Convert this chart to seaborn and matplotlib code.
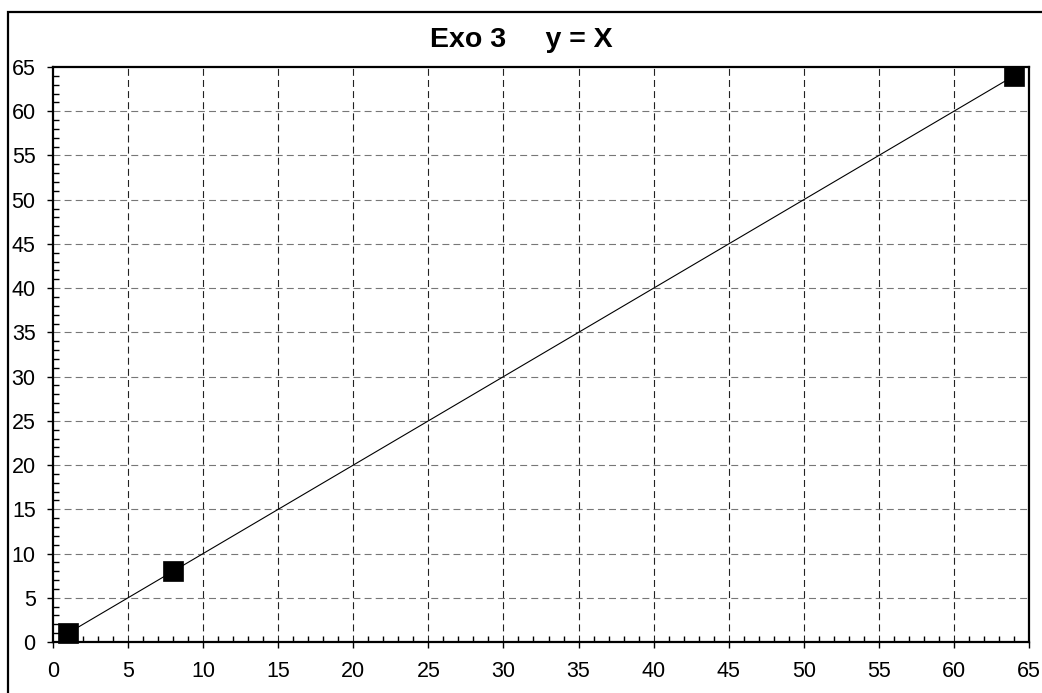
import matplotlib
matplotlib.use("Agg")
from matplotlib import pyplot as plt
from matplotlib.patches import Rectangle
from matplotlib.ticker import MultipleLocator
import seaborn as sns

x_vals = [1, 8, 64]
y_vals = [1, 8, 64]
title = "Exo 3     y = X"

sns.set_style("white")
plt.rcParams['font.family'] = ['Liberation Sans', 'DejaVu Sans']
plt.rcParams['lines.scale_dashes'] = False
plt.rcParams['text.color'] = "black"

fig = plt.figure(figsize=(10.42, 6.93), dpi=100)
ax = fig.add_axes([53/1042, 51/693, (1029-53)/1042, (642-67)/693])

sns.lineplot(x=x_vals, y=y_vals, ax=ax, color="black", linewidth=0.8,
             marker="s", markersize=14.5, markeredgecolor="black",
             markeredgewidth=0.5, markerfacecolor="black",
             clip_on=False, zorder=5)

ax.set_xlim(0, 65)
ax.set_ylim(0, 65)
ax.xaxis.set_major_locator(MultipleLocator(5))
ax.yaxis.set_major_locator(MultipleLocator(5))
ax.xaxis.set_minor_locator(MultipleLocator(1))
ax.yaxis.set_minor_locator(MultipleLocator(1))

ax.grid(False)
for v in range(5, 65, 5):
    ax.axvline(v, color="#222222", lw=0.8, ls=(0, (5, 3)), zorder=1)
    ax.axhline(v, color="#777777", lw=0.8, ls=(0, (5, 3)), zorder=1)

for s in ax.spines.values():
    s.set_linewidth(1.6)
    s.set_color("black")

ax.tick_params(axis="both", which="major", direction="out", length=4.5,
               width=1, color="black", labelsize=15.5, labelcolor="black")
ax.tick_params(axis="x", which="major", pad=9)
ax.tick_params(axis="y", which="major", pad=8)
ax.tick_params(axis="both", which="minor", direction="in", length=4,
               width=1, color="black")
ax.tick_params(bottom=True, left=True, top=False, right=False)
ax.tick_params(which="minor", bottom=True, left=True, top=False, right=False)

ax.set_xlabel("")
ax.set_ylabel("")
fig.text(521/1042, 1 - 40/693, title, ha="center", va="center",
         fontsize=20.5, fontweight="bold", color="black")

fig.add_artist(Rectangle((8/1042, -0.1), 1.2, (693-12)/693 + 0.1,
                         transform=fig.transFigure, fill=False,
                         lw=1.6, edgecolor="black"))

fig.savefig("out.png", dpi=100)
